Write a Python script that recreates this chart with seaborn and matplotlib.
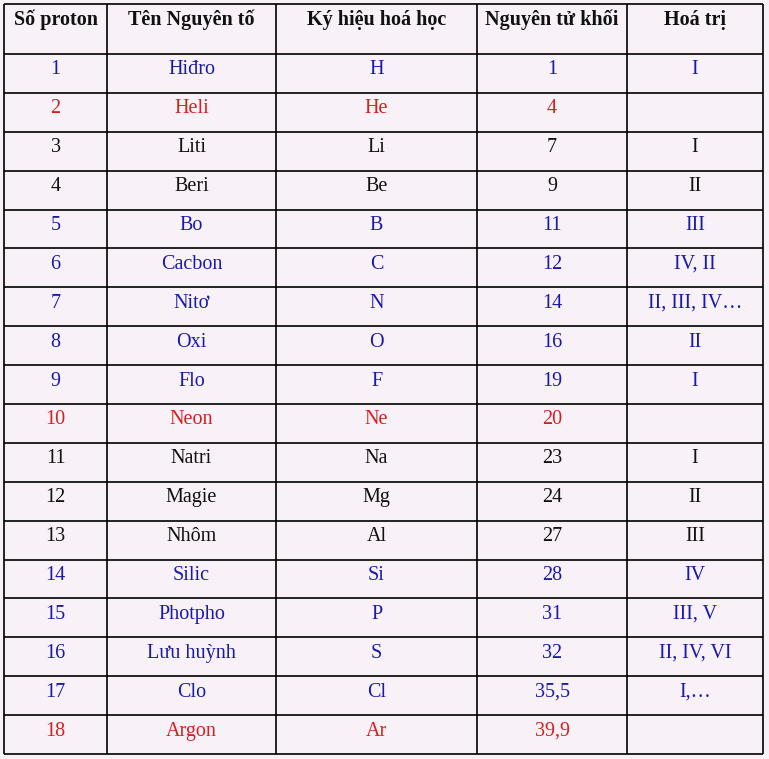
import matplotlib
matplotlib.use("Agg")
import matplotlib.pyplot as plt
import seaborn as sns

headers = ["Số proton", "Tên Nguyên tố", "Ký hiệu hoá học", "Nguyên tử khối", "Hoá trị"]
protons = [str(i) for i in range(1, 19)]
names = ["Hiđro", "Heli", "Liti", "Beri", "Bo", "Cacbon", "Nitơ", "Oxi", "Flo", "Neon",
         "Natri", "Magie", "Nhôm", "Silic", "Photpho", "Lưu huỳnh", "Clo", "Argon"]
symbols = ["H", "He", "Li", "Be", "B", "C", "N", "O", "F", "Ne",
           "Na", "Mg", "Al", "Si", "P", "S", "Cl", "Ar"]
masses = ["1", "4", "7", "9", "11", "12", "14", "16", "19", "20",
          "23", "24", "27", "28", "31", "32", "35,5", "39,9"]
valences = ["I", "", "I", "II", "III", "IV, II", "II, III, IV…", "II", "I", "",
            "I", "II", "III", "IV", "III, V", "II, IV, VI", "I,…", ""]
groups = ["blue", "red", "black", "black", "blue", "blue", "blue", "blue", "blue", "red",
          "black", "black", "black", "blue", "blue", "blue", "blue", "red"]
palette = {"blue": "#1a1aa8", "red": "#d42020", "black": "#111111"}

sns.set_theme(style="white")
plt.rcParams["font.family"] = ["Liberation Serif", "DejaVu Serif"]

W, H = 769, 759
fig = plt.figure(figsize=(W / 100, H / 100), dpi=100)
fig.patch.set_facecolor("#f8f2f8")
ax = fig.add_axes([0, 0, 1, 1])
ax.set_facecolor("#f8f2f8")
ax.set_xlim(0, W)
ax.set_ylim(H, 0)
ax.axis("off")

xb = [4, 107, 276, 477, 627, 763]
top, head_bot, bottom = 4, 54, 754
n = len(protons)
rh = (bottom - head_bot) / n
yb = [top, head_bot] + [head_bot + rh * (i + 1) for i in range(n)]

ax.vlines(xb, top, bottom, color="black", lw=1.2)
ax.hlines(yb, xb[0], xb[-1], color="black", lw=1.2)

cx = [(xb[i] + xb[i + 1]) / 2 for i in range(5)]
for j, h in enumerate(headers):
    ax.text(cx[j], top + 16, h, ha="center", va="center", fontsize=14.5, fontweight="bold", color="#111111")

cols = [protons, names, symbols, masses, valences]
for i in range(n):
    y = yb[i + 1] + 16
    for j, col in enumerate(cols):
        ax.text(cx[j], y, col[i], ha="center", va="center", fontsize=14.5, color=palette[groups[i]])

fig.savefig("out.png", dpi=100, facecolor=fig.get_facecolor())
